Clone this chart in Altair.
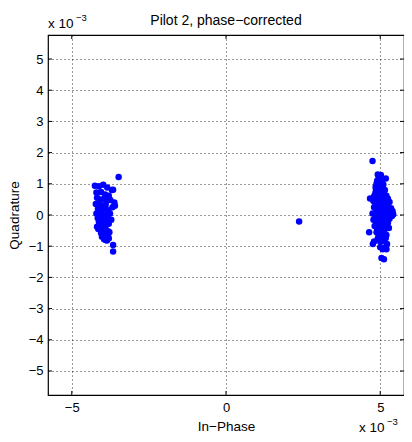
import altair as alt
import pandas as pd

# In-phase / quadrature values, in units of 1e-3
left_x = [-4.25, -4.12, -3.98, -3.85, -3.70, -4.20, -4.05, -3.92, -3.80, -3.66,
          -4.18, -4.08, -3.95, -3.88, -3.75, -4.22, -4.10, -4.00, -3.90, -3.62,
          -4.15, -4.02, -3.93, -3.82, -3.68, -3.60, -4.20, -4.06, -3.96, -3.86,
          -3.76, -4.16, -4.04, -3.94, -3.84, -3.72, -4.12, -4.00, -3.90, -3.80,
          -4.18, -4.08, -3.98, -3.88, -4.14, -4.00, -3.92, -3.82, -4.05, -3.95,
          -3.85, -3.78, -4.02, -3.92, -3.84, -3.95, -3.86, -3.80, -3.90, -3.82,
          -3.66, -3.66, -3.48]
left_y = [0.94, 0.92, 0.97, 0.88, 0.80, 0.72, 0.74, 0.66, 0.62, 0.81,
          0.55, 0.50, 0.52, 0.45, 0.48, 0.35, 0.38, 0.30, 0.33, 0.40,
          0.20, 0.18, 0.22, 0.15, 0.25, 0.30, 0.05, 0.08, 0.02, 0.00,
          0.05, -0.10, -0.08, -0.12, -0.05, -0.15, -0.22, -0.25, -0.20, -0.28,
          -0.38, -0.35, -0.40, -0.32, -0.45, -0.50, -0.45, -0.52, -0.58, -0.62,
          -0.60, -0.55, -0.70, -0.68, -0.72, -0.78, -0.82, -0.75, -0.80, -0.70,
          -0.96, -1.17, 1.22]

right_x = [4.92, 5.02, 4.95, 5.18, 4.90, 5.05, 4.88, 5.00, 5.10, 4.85, 4.97, 5.08,
           4.86, 4.95, 5.05, 5.15, 4.84, 4.93, 5.02, 5.12, 4.80, 4.90, 5.00, 5.10,
           5.20, 4.67, 4.88, 5.05, 5.25, 4.78, 4.95, 5.15, 5.30, 4.85, 5.00, 5.10,
           5.22, 4.80, 4.92, 5.05, 5.18, 5.35, 4.88, 4.98, 5.12, 5.28, 5.40, 4.75,
           4.90, 5.02, 5.15, 5.32, 5.42, 4.85, 4.95, 5.08, 5.22, 5.38, 4.78, 4.92,
           5.05, 5.18, 5.30, 4.88, 5.00, 5.12, 5.25, 4.82, 4.95, 5.08, 5.20, 4.90,
           5.02, 5.15, 5.28, 4.64, 4.88, 5.00, 5.12, 4.95, 5.08, 5.20, 4.92, 5.05,
           5.18, 4.80, 5.00, 5.12, 4.76, 5.22, 5.00, 5.18, 5.08, 5.20, 5.04, 5.12,
           4.75]
right_y = [1.30, 1.28, 1.20, 1.17, 1.10, 1.08, 1.00, 1.02, 0.98, 0.90, 0.92, 0.88,
           0.80, 0.82, 0.78, 0.80, 0.70, 0.72, 0.68, 0.70, 0.60, 0.62, 0.58, 0.60,
           0.62, 0.53, 0.52, 0.50, 0.52, 0.45, 0.44, 0.46, 0.42, 0.35, 0.36, 0.33,
           0.35, 0.25, 0.26, 0.24, 0.25, 0.22, 0.15, 0.16, 0.14, 0.15, 0.12, 0.05,
           0.06, 0.04, 0.05, 0.06, 0.02, -0.05, -0.04, -0.06, -0.05, -0.03, -0.15, -0.14,
           -0.16, -0.15, -0.12, -0.25, -0.26, -0.24, -0.25, -0.35, -0.34, -0.36, -0.35, -0.45,
           -0.44, -0.46, -0.42, -0.55, -0.55, -0.54, -0.56, -0.65, -0.66, -0.64, -0.75, -0.76,
           -0.74, -0.85, -0.86, -0.84, -0.93, -0.93, -1.03, -1.03, -1.10, -1.10, -1.38, -1.42,
           1.73]

outlier_x = [2.37]
outlier_y = [-0.21]

tick_vals = [-5, -4, -3, -2, -1, 0, 1, 2, 3, 4, 5]
x_tick_vals = [-5, 0, 5]
title_text = "Pilot 2, phase−corrected"

W = 356
H = 360
LIM = 5.77
FONT = "Liberation Sans"

pts = pd.DataFrame({
    "x": left_x + right_x + outlier_x,
    "y": left_y + right_y + outlier_y,
})

xs = alt.Scale(domain=[-LIM, LIM], nice=False, zero=False)
ys = alt.Scale(domain=[-LIM, LIM], nice=False, zero=False)

x_axis = alt.Axis(values=x_tick_vals, title="In−Phase", grid=True, tickSize=0,
                  labelOverlap=False, labelPadding=6, titlePadding=5)
y_axis = alt.Axis(values=tick_vals, title="Quadrature", grid=True, tickSize=0,
                  labelOverlap=False, labelPadding=5, titlePadding=7)

points = alt.Chart(pts).mark_circle(size=42, color="#0000ff", opacity=1).encode(
    x=alt.X("x:Q", scale=xs, axis=x_axis, title="In−Phase"),
    y=alt.Y("y:Q", scale=ys, axis=y_axis, title="Quadrature"),
)

ytk = pd.DataFrame({"v": tick_vals})
xtk = pd.DataFrame({"v": x_tick_vals})
yl = alt.Chart(ytk).mark_rule(color="black", strokeWidth=1).encode(
    y=alt.Y("v:Q", scale=ys, axis=y_axis, title="Quadrature"), x=alt.value(0), x2=alt.value(4))
yr = alt.Chart(ytk).mark_rule(color="black", strokeWidth=1).encode(
    y=alt.Y("v:Q", scale=ys, axis=y_axis, title="Quadrature"), x=alt.value(W - 4), x2=alt.value(W))
xb = alt.Chart(xtk).mark_rule(color="black", strokeWidth=1).encode(
    x=alt.X("v:Q", scale=xs, axis=x_axis, title="In−Phase"), y=alt.value(H - 4), y2=alt.value(H))
xt = alt.Chart(xtk).mark_rule(color="black", strokeWidth=1).encode(
    x=alt.X("v:Q", scale=xs, axis=x_axis, title="In−Phase"), y=alt.value(0), y2=alt.value(4))

ann = pd.DataFrame({"t": ["x 10"]})
title_mark = alt.Chart(pd.DataFrame({"t": [title_text]})).mark_text(
    align="center", baseline="alphabetic", fontSize=14, font=FONT, color="black").encode(
    text="t:N", x=alt.value(W / 2), y=alt.value(-10))
top_x10 = alt.Chart(ann).mark_text(align="left", baseline="alphabetic", fontSize=13.5, font=FONT, color="black").encode(
    text="t:N", x=alt.value(0), y=alt.value(-7))
top_exp = alt.Chart(pd.DataFrame({"t": ["−3"]})).mark_text(align="left", baseline="alphabetic", fontSize=9.5, font=FONT, color="black").encode(
    text="t:N", x=alt.value(28), y=alt.value(-14))
bot_x10 = alt.Chart(ann).mark_text(align="left", baseline="alphabetic", fontSize=13.5, font=FONT, color="black").encode(
    text="t:N", x=alt.value(311), y=alt.value(397))
bot_exp = alt.Chart(pd.DataFrame({"t": ["−3"]})).mark_text(align="left", baseline="alphabetic", fontSize=9.5, font=FONT, color="black").encode(
    text="t:N", x=alt.value(339), y=alt.value(390))

chart = alt.layer(points, yl, yr, xb, xt, title_mark, top_x10, top_exp, bot_x10, bot_exp).properties(
    width=W, height=H,
    background="white",
    autosize=alt.AutoSizeParams(type="none"),
    padding={"left": 40, "top": 27, "right": 0, "bottom": 39},
).configure_view(stroke="black", strokeWidth=1.2).configure_axis(
    domain=False, gridColor="black", gridDash=[1, 3], gridOpacity=0.8, gridWidth=1,
    labelFont=FONT, labelFontSize=13, labelColor="black",
    titleFont=FONT, titleFontSize=13.5, titleFontWeight="normal", titleColor="black",
)

chart.save("out.html", embed_options={"renderer": "svg", "actions": False})
